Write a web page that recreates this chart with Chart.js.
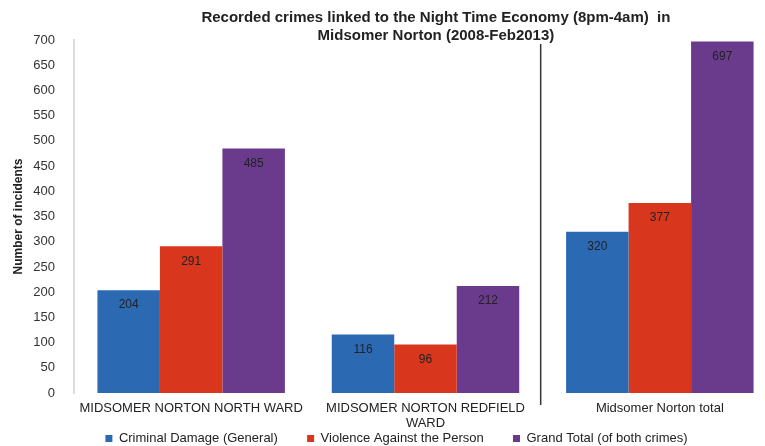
<!DOCTYPE html>
<html>
<head>
<meta charset="utf-8">
<title>Night Time Economy crimes</title>
<script src="https://cdn.jsdelivr.net/npm/chart.js@4.4.0/dist/chart.umd.min.js"></script>
<style>
  body { margin: 0; overflow: hidden; background: #fff; }
  .chart-box { width: 780px; height: 446px; }
</style>
</head>
<body>
<div class="chart-box"><canvas id="myChart"></canvas></div>
<script>
const categories = [
  "MIDSOMER NORTON NORTH WARD",
  ["MIDSOMER NORTON REDFIELD", "WARD"],
  "Midsomer Norton total",
];
const seriesNames = [
  "Criminal Damage (General)",
  "Violence Against the Person",
  "Grand Total (of both crimes)",
];
const criminalDamage = [204, 116, 320];
const violence = [291, 96, 377];
const grandTotal = [485, 212, 697];
const yMin = 0;
const yMax = 700;
const yStep = 50;

const font = "'Liberation Sans', Arial, sans-serif";

// numbers written inside the top of each bar
const valueLabels = {
  id: "valueLabels",
  afterDatasetsDraw: (chart) => {
    const ctx = chart.ctx;
    ctx.save();
    ctx.font = "12px " + font;
    ctx.fillStyle = "#222";
    ctx.textAlign = "center";
    ctx.textBaseline = "middle";
    chart.data.datasets.forEach((ds, i) => {
      chart.getDatasetMeta(i).data.forEach((bar, j) => {
        ctx.fillText(ds.data[j], bar.x, bar.y + 15);
      });
    });
    ctx.restore();
  },
};

// black divider between the wards and the total
const separator = {
  id: "separator",
  afterDraw: (chart) => {
    const ctx = chart.ctx;
    const x = chart.scales.x;
    const xPos = (x.getPixelForValue(1) + x.getPixelForValue(2)) / 2 - 2;
    ctx.save();
    ctx.strokeStyle = "#333";
    ctx.lineWidth = 1.5;
    ctx.beginPath();
    ctx.moveTo(xPos, chart.chartArea.top + 4);
    ctx.lineTo(xPos, chart.chartArea.bottom + 12);
    ctx.stroke();
    ctx.restore();
  },
};

// wider gap between legend items without pushing the row down
const legendLabels = (chart) => {
  const items = Chart.defaults.plugins.legend.labels.generateLabels(chart);
  return items.map((item, i) => {
    if (i < items.length - 1) {
      item.text = item.text + "       ";
    }
    return item;
  });
};

const ctx = document.getElementById("myChart").getContext("2d");
const myChart = new Chart(ctx, {
  type: "bar",
  data: {
    labels: categories,
    datasets: [
      { label: seriesNames[0], data: criminalDamage, backgroundColor: "#2c69b3" },
      { label: seriesNames[1], data: violence, backgroundColor: "#d8361d" },
      { label: seriesNames[2], data: grandTotal, backgroundColor: "#6a3b8d" },
    ],
  },
  options: {
    responsive: true,
    maintainAspectRatio: false,
    animation: false,
    datasets: {
      bar: { categoryPercentage: 0.8, barPercentage: 1.0 },
    },
    layout: { padding: { left: 16, right: 3, top: 0, bottom: 0 } },
    plugins: {
      title: {
        display: true,
        fullSize: false,
        text: [
          "     Recorded crimes linked to the Night Time Economy (8pm-4am)  in",
          "     Midsomer Norton (2008-Feb2013)",
        ],
        color: "#222",
        font: { family: font, size: 15, weight: "bold", lineHeight: 1.2 },
        padding: { top: 9, bottom: -5 },
      },
      legend: {
        position: "bottom",
        align: "center",
        maxHeight: 18,
        labels: {
          boxWidth: 7,
          boxHeight: 7,
          padding: 4,
          color: "#222",
          font: { family: font, size: 13 },
          generateLabels: legendLabels,
        },
      },
      tooltip: { enabled: false },
    },
    scales: {
      x: {
        grid: { display: false },
        border: { display: false },
        ticks: {
          color: "#222",
          padding: 0,
          maxRotation: 0,
          autoSkip: false,
          font: { family: font, size: 13, lineHeight: 1.15 },
        },
        afterFit: (scale) => {
          scale.height = 35;
        },
      },
      y: {
        min: yMin,
        max: yMax,
        grid: { display: false },
        border: { display: true, color: "#dcdcdc", width: 2 },
        ticks: {
          stepSize: yStep,
          color: "#333",
          padding: 11,
          font: { family: font, size: 13 },
        },
        title: {
          display: true,
          text: "Number of incidents",
          color: "#222",
          font: { family: font, size: 12, weight: "bold" },
          padding: { top: -5, bottom: 0 },
        },
        afterFit: (scale) => {
          scale.width = 58;
        },
      },
    },
  },
  plugins: [valueLabels, separator],
});
</script>
</body>
</html>
